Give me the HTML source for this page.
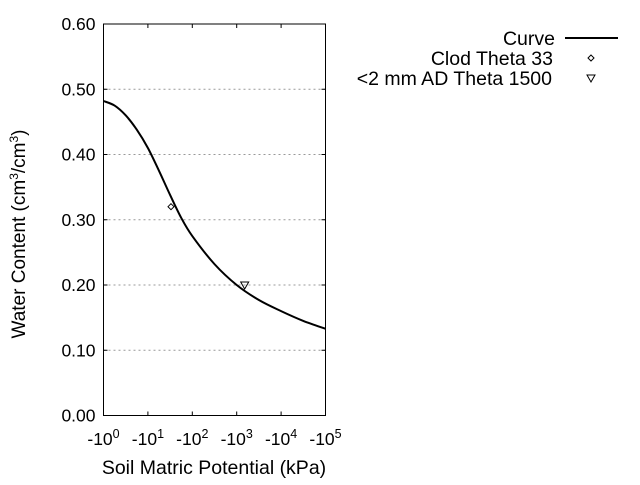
<!DOCTYPE html>
<html><head><meta charset="utf-8"><style>
body{margin:0;background:#fff;}
text{font-family:"Liberation Sans",sans-serif;fill:#000;}
</style></head><body>
<svg id="chart" width="640" height="480" xmlns="http://www.w3.org/2000/svg">
<g id="grid"></g>
<g id="axes"></g>
<g id="series"></g>
<text transform="translate(25,234) rotate(-90)" text-anchor="middle" font-size="19">Water Content (cm<tspan baseline-shift="super" font-size="12">3</tspan>/cm<tspan baseline-shift="super" font-size="12">3</tspan>)</text>
<text x="214" y="474" text-anchor="middle" font-size="19.5">Soil Matric Potential (kPa)</text>
<g>
<g><text x="555" y="45" text-anchor="end" font-size="19.5">Curve</text><line x1="565" y1="38" x2="618" y2="38" stroke="#000" stroke-width="2"/></g>
<g><text x="553" y="65" text-anchor="end" font-size="19.5">Clod Theta 33</text><path d="M591,55 l3,3 l-3,3 l-3,-3z" fill="none" stroke="#000"/></g>
<g><text x="552" y="85" text-anchor="end" font-size="19.5">&lt;2 mm AD Theta 1500</text><path d="M587,75 h8 l-4,7z" fill="none" stroke="#000"/></g>
</g>
</svg>
<script>
const curveLogH=[0,0.25,0.5,0.75,1,1.25,1.5,1.75,2,2.5,3,3.5,4,4.5,5];
const curveTheta=[0.482,0.475,0.460,0.438,0.410,0.375,0.338,0.303,0.275,0.232,0.200,0.177,0.160,0.145,0.133];
const clodLogH=[1.52];const clodTheta=[0.32];
const adLogH=[3.18];const adTheta=[0.20];
const yTicks=[0,0.1,0.2,0.3,0.4,0.5,0.6];
const xTicks=[0,1,2,3,4,5];
const L=103.5,R=325.5,T=24,B=415.5;
const sx=v=>L+(R-L)*v/5, sy=v=>B-(B-T)*v/0.6;
const NS='http://www.w3.org/2000/svg';
function mk(p,t,a){const e=document.createElementNS(NS,t);for(const k in a)e.setAttribute(k,a[k]);document.getElementById(p).appendChild(e);return e;}
yTicks.forEach(v=>{const y=sy(v);
 if(v>0&&v<0.6){const g=mk('grid','line',{x1:L,x2:R,y1:y,y2:y,stroke:'#999','stroke-dasharray':'2,3'});}
 const t=mk('axes','text',{x:L-8,y:y+6,'text-anchor':'end','font-size':'17.5'});t.textContent=v.toFixed(2);
 
 mk('axes','line',{x1:L,x2:L+4,y1:y,y2:y,stroke:'#000'});mk('axes','line',{x1:R,x2:R-4,y1:y,y2:y,stroke:'#000'});
});
xTicks.forEach(v=>{const x=sx(v);
 mk('axes','line',{x1:x,x2:x,y1:B,y2:B-4,stroke:'#000'});mk('axes','line',{x1:x,x2:x,y1:T,y2:T+4,stroke:'#000'});
 const t=mk('axes','text',{x:x,y:445,'text-anchor':'middle','font-size':'17.5'});t.innerHTML='-10<tspan dy="-7" font-size="12.5">'+v+'</tspan>';
 
});
const fr=mk('axes','rect',{x:L,y:T,width:R-L,height:B-T,fill:'none',stroke:'#000'});

// smooth path via Catmull-Rom through data points
const P=curveLogH.map((h,i)=>[sx(h),sy(curveTheta[i])]);
let d='M'+P[0][0]+','+P[0][1];
for(let i=0;i<P.length-1;i++){const p0=P[Math.max(0,i-1)],p1=P[i],p2=P[i+1],p3=P[Math.min(P.length-1,i+2)];
 d+=`C${p1[0]+(p2[0]-p0[0])/6},${p1[1]+(p2[1]-p0[1])/6} ${p2[0]-(p3[0]-p1[0])/6},${p2[1]-(p3[1]-p1[1])/6} ${p2[0]},${p2[1]}`;}
const p=mk('series','path',{d:d,fill:'none',stroke:'#000','stroke-width':2});

clodLogH.forEach((h,i)=>{const x=sx(h),y=sy(clodTheta[i]);const m=mk('series','path',{d:`M${x},${y-3}l3,3l-3,3l-3,-3z`,fill:'none',stroke:'#000'});
 });
adLogH.forEach((h,i)=>{const x=sx(h),y=sy(adTheta[i]);const m=mk('series','path',{d:`M${x-4},${y-3}h8l-4,7z`,fill:'none',stroke:'#000'});
 });
</script>
</body></html>
